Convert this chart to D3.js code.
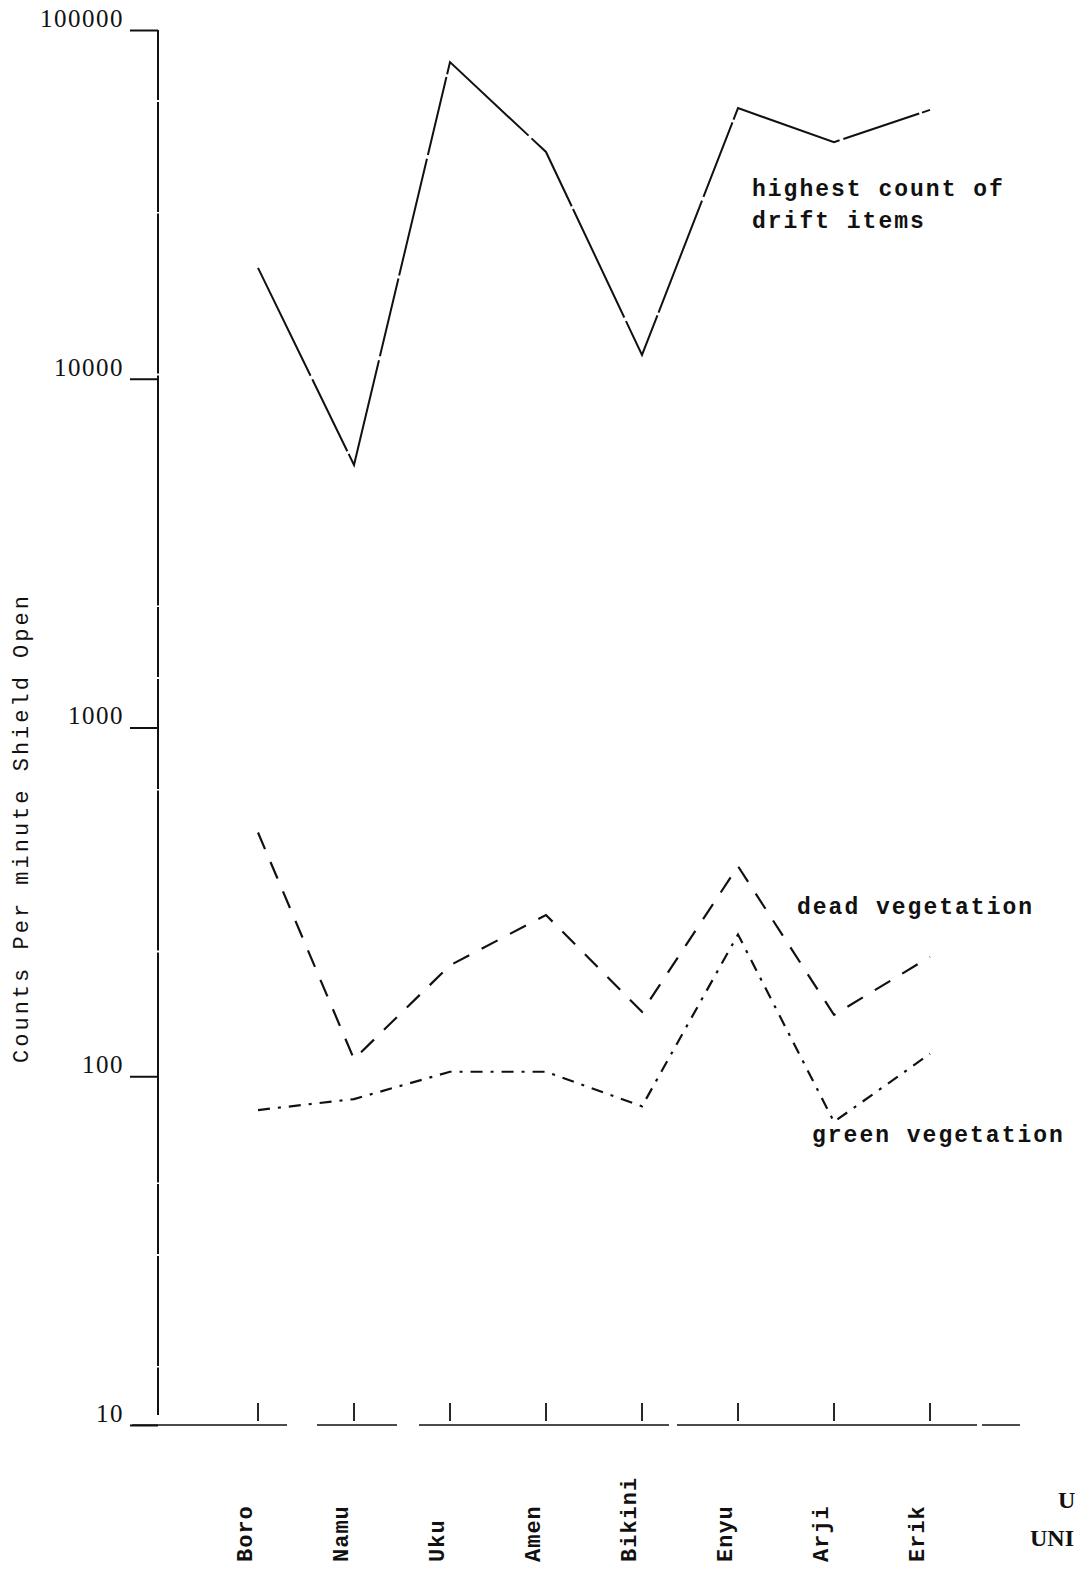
<!DOCTYPE html>
<html lang="en">
<head>
    <meta charset="UTF-8">
    <title>Counts per minute by island</title>
    <script src="https://cdn.jsdelivr.net/npm/d3@7/dist/d3.min.js"></script>
    <style>
        body { margin: 0; background: #fff; }
        svg { display: block; }
        .mono { font-family: "Liberation Mono", "DejaVu Sans Mono", monospace; fill: #111; }
        .serif { font-family: "Liberation Serif", "DejaVu Serif", serif; fill: #111; }
    </style>
</head>
<body>
<svg id="chart" width="1082" height="1577"></svg>
<script>
    // islands along the x axis
    let islands = ['Boro', 'Namu', 'Uku', 'Amen', 'Bikini', 'Enyu', 'Arji', 'Erik'];
    // counts per minute
    let driftItems = [20800, 5660, 80900, 44700, 11700, 59700, 47700, 59000];
    let deadVeg = [500, 112, 208, 290, 153, 400, 150, 220];
    let greenVeg = [80, 86, 103, 103, 82, 255, 74, 116];
    let yTicks = [10, 100, 1000, 10000, 100000];

    let svg = d3.select('#chart');

    let x = d3.scalePoint().domain(islands).range([258, 930]);
    let y = d3.scaleLog().domain([10, 100000]).range([1425, 30]);

    // y axis
    let yAxis = d3.axisLeft(y)
        .tickValues(yTicks)
        .tickFormat(d3.format('d'))
        .tickSize(28)
        .tickPadding(6);
    let gy = svg.append('g')
        .attr('transform', 'translate(158,0)')
        .call(yAxis);
    gy.select('.domain').remove();
    gy.selectAll('.tick line').attr('stroke', '#111').attr('stroke-width', 2);
    gy.selectAll('.tick text')
        .attr('class', 'serif')
        .style('font-size', '25px')
        .style('letter-spacing', '1.5px')
        .attr('dy', '-0.15em');
    gy.append('line')
        .attr('y1', y(100000)).attr('y2', y(10) - 10)
        .attr('stroke', '#111').attr('stroke-width', 2)
        .attr('stroke-dasharray', '70,2,110,1.5,160,2,230,1.5');

    // x axis (broken baseline)
    let gx = svg.append('g')
        .attr('transform', 'translate(0,' + y(10) + ')');
    gx.append('line')
        .attr('x1', 132).attr('x2', 1020)
        .attr('stroke', '#111').attr('stroke-width', 1.6)
        .attr('stroke-dasharray', '155,30,80,22,250,8,300,5,200');
    gx.selectAll('.xtick').data(islands).enter()
        .append('line')
        .attr('x1', d => x(d)).attr('x2', d => x(d))
        .attr('y1', -22).attr('y2', -4)
        .attr('stroke', '#111').attr('stroke-width', 1.8);
    gx.selectAll('.xlab').data(islands).enter()
        .append('text')
        .attr('class', 'mono')
        .attr('transform', d => 'translate(' + (x(d) - 14) + ',137) rotate(-90)')
        .attr('text-anchor', 'start')
        .attr('dy', '0.35em')
        .style('font-size', '22px')
        .style('font-weight', 'bold')
        .style('letter-spacing', '1px')
        .text(d => d);

    // axis title
    svg.append('text')
        .attr('class', 'mono')
        .attr('transform', 'translate(28,828) rotate(-90)')
        .attr('text-anchor', 'middle')
        .style('font-size', '22px')
        .style('letter-spacing', '3px')
        .text('Counts Per minute Shield Open');

    // series
    let line = d3.line()
        .x((d, i) => x(islands[i]))
        .y(d => y(d));

    svg.append('path')
        .datum(driftItems)
        .attr('d', line)
        .attr('fill', 'none')
        .attr('stroke', '#111')
        .attr('stroke-width', 2)
        .attr('stroke-dasharray', '120,4,80,3');

    svg.append('path')
        .datum(deadVeg)
        .attr('d', line)
        .attr('fill', 'none')
        .attr('stroke', '#111')
        .attr('stroke-width', 2.2)
        .attr('stroke-dasharray', '18,14');

    svg.append('path')
        .datum(greenVeg)
        .attr('d', line)
        .attr('fill', 'none')
        .attr('stroke', '#111')
        .attr('stroke-width', 2.2)
        .attr('stroke-dasharray', '12,8,3,8');

    // labels on the lines
    let notes = svg.append('g').attr('class', 'mono')
        .style('font-size', '23px').style('font-weight', 'bold').style('letter-spacing', '2px');
    notes.append('text').attr('x', 752).attr('y', 196).text('highest count of');
    notes.append('text').attr('x', 752).attr('y', 228).text('drift items');
    notes.append('text').attr('x', 797).attr('y', 914).text('dead vegetation');
    notes.append('text').attr('x', 812).attr('y', 1142).text('green vegetation');

    // stamp cut off at the page edge
    svg.append('text').attr('class', 'serif').attr('x', 1058).attr('y', 1508)
        .style('font-size', '24px').style('font-weight', 'bold').text('U');
    svg.append('text').attr('class', 'serif').attr('x', 1030).attr('y', 1546)
        .style('font-size', '24px').style('font-weight', 'bold').text('UNI');
</script>
</body>
</html>
